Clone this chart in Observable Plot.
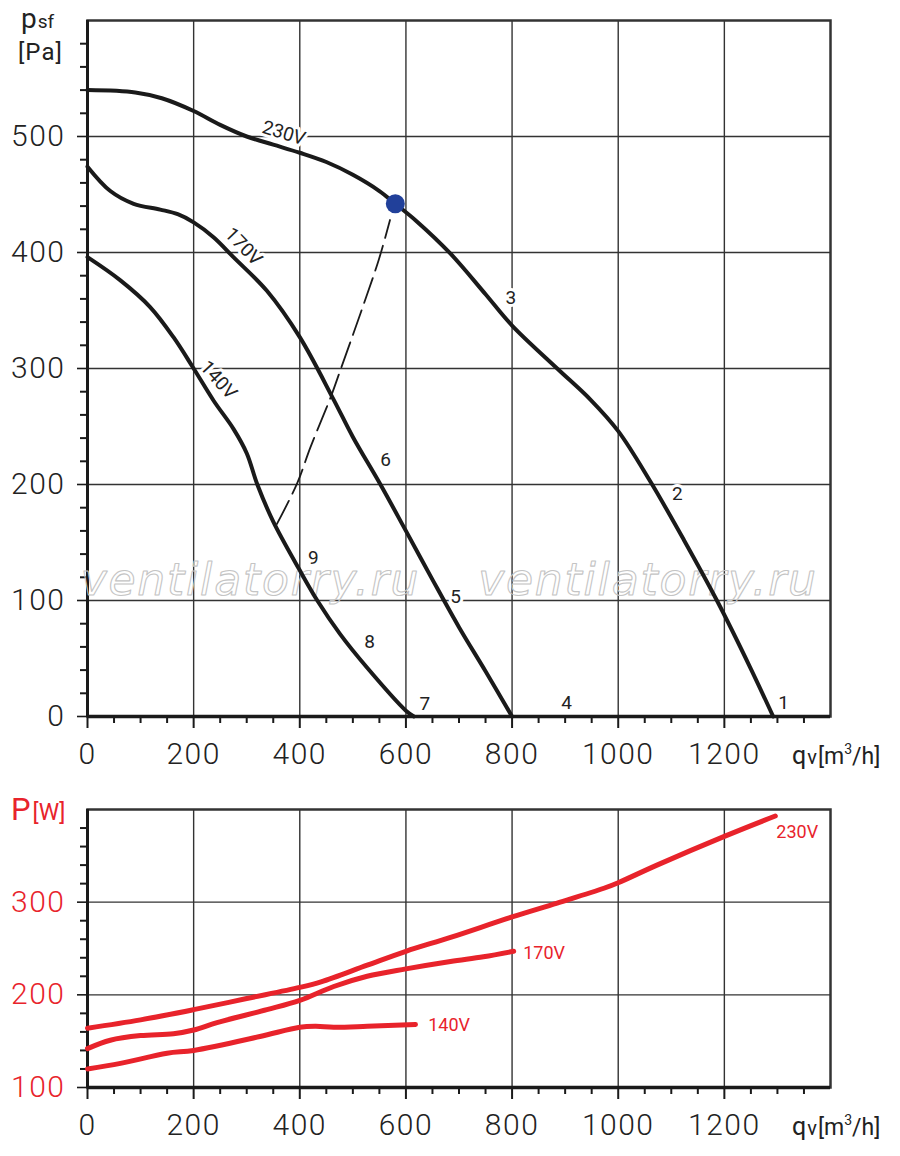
<!DOCTYPE html>
<html>
<head>
<meta charset="utf-8">
<script src="https://cdn.jsdelivr.net/npm/d3@7"></script>
<script src="https://cdn.jsdelivr.net/npm/@observablehq/plot@0.6"></script>
<style>
  body { margin: 0; background: #fff; }
  #top, #bot { position: absolute; left: 0; }
  #top { top: 0; }
  #bot { top: 780px; }
</style>
</head>
<body>
<div id="top"></div>
<div id="bot"></div>
<script>
// ---------- data: fan curves psf [Pa] vs qv [m3/h] ----------
const psf230 = [[0,540],[90,538],[140,533],[200,522],[250,510],[300,500],[350,493],[400,486],[450,478],[500,467],[550,453],[580,442],[620,427],[684,399],[750,364],[800,337],[885,300],[948,273],[1000,246],[1060,203],[1124,152],[1186,100],[1249,42],[1292,0]];
const psf170 = [[0,474],[43,453],[87,442],[137,437],[170,433],[200,426],[238,413],[275,396],[338,367],[400,327],[464,273],[500,241],[552,200],[600,160],[650,118],[700,77],[750,39],[800,0]];
const psf140 = [[0,396],[62,376],[118,353],[162,327],[200,300],[238,272],[275,248],[300,227],[320,200],[350,168],[400,126],[433,100],[476,71],[527,42],[600,5],[615,0]];
const systemCurve = [[357,166],[395,201],[420,232],[458,275],[476,298],[514,347],[549,394],[570,428]];
const operatingPoint = [[580,442]];

// ---------- data: power P [W] vs qv ----------
const pw230 = [[0,164],[100,173],[200,184],[300,196],[400,208],[440,214],[527,232],[600,247],[684,262],[800,284],[885,299],[973,315],[1000,321],[1073,340],[1200,371],[1296,393]];
const pw170 = [[0,142],[43,151],[100,156],[162,158],[200,162],[244,170],[338,184],[400,194],[464,209],[527,220],[600,228],[684,236],[746,241],[803,247]];
const pw140 = [[0,120],[62,126],[150,137],[200,140],[325,155],[400,165],[430,166],[464,165],[527,166],[618,168]];

// ---------- labels ----------
const voltLabels = [
  {t: "230V", q: 370, p: 503, a: 17},
  {t: "170V", q: 294, p: 405, a: 46},
  {t: "140V", q: 247, p: 290, a: 48}
];
const pointLabels = [
  {t: "1", q: 1313, p: 12}, {t: "2", q: 1113, p: 192}, {t: "3", q: 799, p: 361},
  {t: "4", q: 904, p: 12}, {t: "5", q: 695, p: 103}, {t: "6", q: 563, p: 221},
  {t: "7", q: 637, p: 11}, {t: "8", q: 533, p: 64}, {t: "9", q: 427, p: 137}
];
const powerLabels = [
  {t: "230V", q: 1298, p: 375}, {t: "170V", q: 821, p: 245}, {t: "140V", q: 642, p: 167}
];
const watermarks = [{t: "ventilatorry.ru", q: 307, p: 117}, {t: "ventilatorry.ru", q: 1056, p: 117}];

// ---------- ticks ----------
const xMajor = [0,200,400,600,800,1000,1200];
const xMinor = [50,100,150,250,300,350,450,500,550,650,700,750,850,900,950,1050,1100,1150,1250,1300,1350];
const yMajorTop = [0,100,200,300,400,500];
const yGridTop = [100,200,300,400,500];
const yMinorTop = [20,40,60,80,120,140,160,180,220,240,260,280,320,340,360,380,420,440,460,480,520,540,560,580];
const yMajorBot = [100,200,300];
const yGridBot = [200,300];
const yMinorBot = [120,140,160,180,220,240,260,280,320,340,360,380];

const INK = "#1a1a1a", GRID = "#333", RED = "#e8232b", BLUE = "#21409a";
const X = d => d[0], Y = d => d[1];
const fmt = d => String(d);
const FONT = "Roboto, 'Noto Sans', sans-serif";

function axesMarks(yMajor, yGrid, yMinor, yColor, yBase) {
  return [
    Plot.gridX(xMajor.filter(v => v > 0), {stroke: GRID, strokeOpacity: 1, strokeWidth: 1.4}),
    Plot.gridY(yGrid, {stroke: GRID, strokeOpacity: 1, strokeWidth: 1.4}),
    Plot.frame({stroke: GRID, strokeWidth: 2.5}),
    Plot.axisY(yMinor, {tickSize: 7, text: null, label: null, stroke: INK, strokeWidth: 2}),
    Plot.axisY(yMajor, {tickSize: 10, text: null, label: null, stroke: INK, strokeWidth: 1.6}),
    Plot.axisY(yMajor, {tickSize: 0, tickPadding: 22, fill: yColor, fontSize: 30, fontWeight: 300, label: null, tickFormat: fmt}),
    Plot.axisX(xMinor, {tickSize: 7, text: null, label: null, stroke: INK, strokeWidth: 2}),
    Plot.axisX(xMajor, {tickSize: 12, text: null, label: null, stroke: INK, strokeWidth: 2}),
    Plot.axisX(xMajor, {tickSize: 0, tickPadding: 26, fill: "#222", fontSize: 30, fontWeight: 300, label: null, tickFormat: fmt}),
    Plot.ruleX([0], {stroke: INK, strokeWidth: 3}),
    Plot.ruleY([yBase], {stroke: INK, strokeWidth: 3.5})
  ];
}

// ---------- top chart ----------
const topSvg = Plot.plot({
  width: 900, height: 780,
  marginTop: 20, marginBottom: 64, marginLeft: 87, marginRight: 70,
  x: {domain: [0, 1400], axis: null, label: null},
  y: {domain: [0, 600], axis: null, label: null},
  style: {fontFamily: FONT, background: "white", color: "#222"},
  marks: [
    ...axesMarks(yMajorTop, yGridTop, yMinorTop, "#222", 0),
    Plot.text(watermarks, {x: "q", y: "p", text: "t", fill: "none", stroke: "#c4c4c4", strokeWidth: 1.1,
      fontSize: 44, fontStyle: "italic", fontFamily: "DejaVu Sans"}),
    Plot.text(voltLabels, {x: "q", y: "p", text: "t", rotate: "a", fontSize: 19, fill: "#222",
      stroke: "white", strokeWidth: 6}),
    Plot.text(pointLabels, {x: "q", y: "p", text: "t", fontSize: 19, fill: "#222",
      stroke: "white", strokeWidth: 6}),
    Plot.line(psf230, {x: X, y: Y, stroke: INK, strokeWidth: 4, curve: "catmull-rom"}),
    Plot.line(psf170, {x: X, y: Y, stroke: INK, strokeWidth: 4, curve: "catmull-rom"}),
    Plot.line(psf140, {x: X, y: Y, stroke: INK, strokeWidth: 4, curve: "catmull-rom"}),
    Plot.line(systemCurve, {x: X, y: Y, stroke: INK, strokeWidth: 1.8, strokeDasharray: "26,8", curve: "catmull-rom"}),
    Plot.dot(operatingPoint, {x: X, y: Y, r: 9.5, fill: BLUE})
  ]
});
document.getElementById("top").appendChild(topSvg);

// ---------- bottom chart ----------
const botSvg = Plot.plot({
  width: 900, height: 376,
  marginTop: 29, marginBottom: 69, marginLeft: 87, marginRight: 70,
  x: {domain: [0, 1400], axis: null, label: null},
  y: {domain: [100, 400], axis: null, label: null},
  style: {fontFamily: FONT, background: "white", color: "#222"},
  marks: [
    ...axesMarks(yMajorBot, yGridBot, yMinorBot, RED, 100),
    Plot.line(pw230, {x: X, y: Y, stroke: RED, strokeWidth: 5, curve: "catmull-rom"}),
    Plot.line(pw170, {x: X, y: Y, stroke: RED, strokeWidth: 5, curve: "catmull-rom"}),
    Plot.line(pw140, {x: X, y: Y, stroke: RED, strokeWidth: 5, curve: "catmull-rom"}),
    Plot.text(powerLabels, {x: "q", y: "p", text: "t", textAnchor: "start", fontSize: 18, fill: RED})
  ]
});
document.getElementById("bot").appendChild(botSvg);

// ---------- styling of tick labels and watermark ----------
for (const svg of [topSvg, botSvg]) {
  d3.select(svg).selectAll("text").each(function () {
    const s = this.textContent;
    if (/^\d+$/.test(s) && this.getAttribute("font-size") !== "19") this.style.letterSpacing = "1.5px";
    if (s === "ventilatorry.ru") this.style.letterSpacing = "1.8px";
  });
}

// ---------- axis titles ----------
function addText(svg, x, y, fill) {
  return d3.select(svg).append("text").attr("x", x).attr("y", y).attr("fill", fill)
    .attr("text-anchor", "start").style("font-family", FONT);
}
function qvLabel(svg, y) {
  const t = addText(svg, 792, y, "#222");
  t.append("tspan").attr("font-size", 25).text("q");
  t.append("tspan").attr("font-size", 20).attr("dx", 1).text("v");
  t.append("tspan").attr("font-size", 23).attr("dx", 1).text("[m");
  t.append("tspan").attr("font-size", 14).attr("dy", -10).text("3");
  t.append("tspan").attr("font-size", 23).attr("dy", 10).text("/h]");
}
{
  const p = addText(topSvg, 21, 28, "#222");
  p.append("tspan").attr("font-size", 28).text("p");
  p.append("tspan").attr("font-size", 19).attr("dx", 1).text("sf");
  addText(topSvg, 18, 60, "#222").attr("font-size", 24).style("letter-spacing", "1px").text("[Pa]");
  qvLabel(topSvg, 764);
}
{
  const p = addText(botSvg, 11, 40, RED);
  p.append("tspan").attr("font-size", 31).text("P");
  p.append("tspan").attr("font-size", 23).attr("dx", 2).text("[W]");
  qvLabel(botSvg, 355);
}
</script>
</body>
</html>
